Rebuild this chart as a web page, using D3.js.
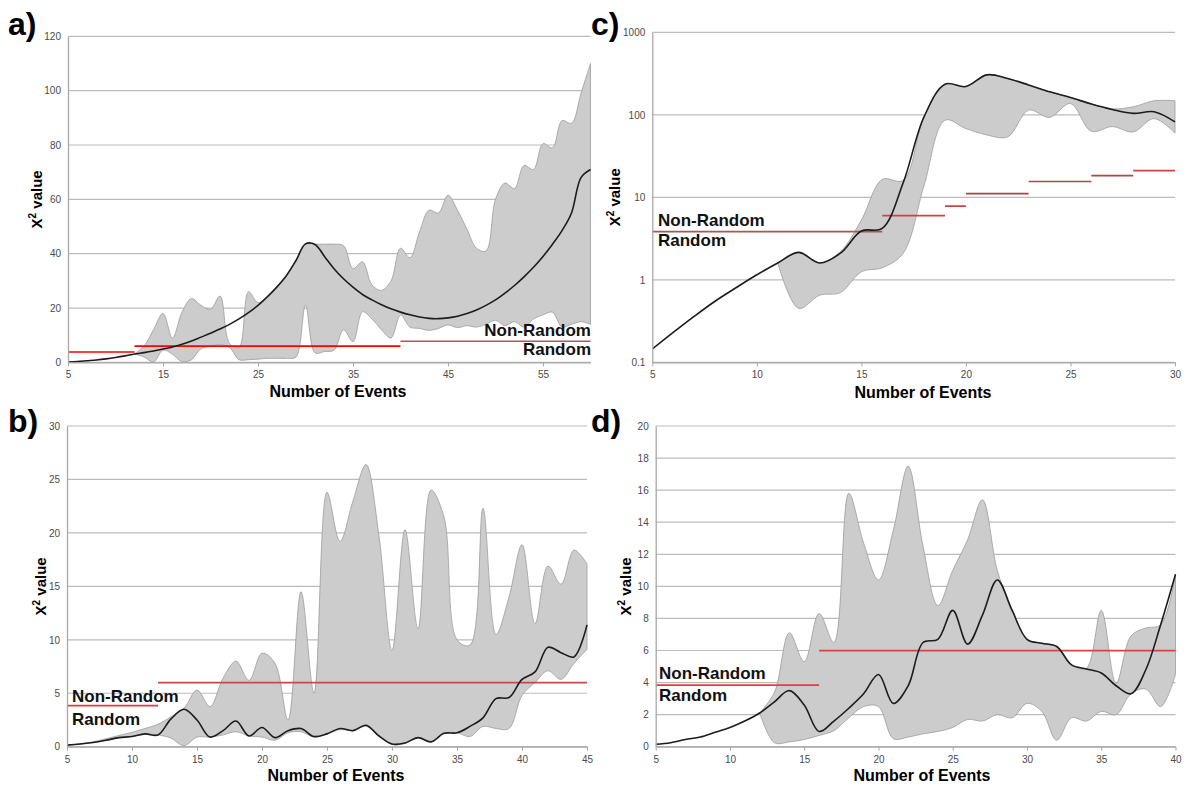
<!DOCTYPE html>
<html>
<head>
<meta charset="utf-8">
<script src="https://cdn.jsdelivr.net/npm/d3@7"></script>
<style>
  body { margin: 0; background: #fff; }
  text { font-family: "Liberation Sans", Arial, sans-serif; }
</style>
</head>
<body>
<svg id="chart" width="1192" height="787"></svg>
<script>
// ---- panel a : events 5..60 ----
let aEvents = d3.range(5, 61)
let aMean = [0.1, 0.3, 0.6, 0.9, 1.3, 1.8, 2.4, 3.1, 3.6, 4.2, 4.9, 5.7, 6.7, 7.9, 9.3, 10.7, 12.3, 14.0, 16.0, 18.3,
  21.0, 24.2, 27.8, 32.0, 37.5, 43.6, 43.4, 39.0, 34.5, 30.8, 27.7, 25.0, 23.0, 21.2, 19.7, 18.5, 17.5, 16.7, 16.2, 16.1,
  16.4, 17.0, 18.0, 19.3, 21.0, 23.0, 25.5, 28.3, 31.5, 35.0, 39.0, 43.5, 48.5, 55.0, 68.0, 71.0]
let aUpper = [null, null, null, null, null, null, null, 3.1, 6.0, 12.0, 18.0, 9.0, 18.5, 23.5, 21.0, 19.5, 24.4, 7.0, 5.5, 26.0,
  22.0, 24.2, 27.8, 32.0, 37.5, 43.6, 43.5, 43.5, 43.5, 43.0, 34.5, 37.0, 28.5, 26.5, 30.0, 42.0, 38.5, 48.0, 56.0, 55.0,
  61.5, 56.0, 49.0, 42.0, 41.0, 60.0, 66.0, 64.0, 72.5, 71.0, 80.5, 79.0, 89.0, 88.0, 99.0, 110.0]
let aLower = [null, null, null, null, null, null, null, 3.1, 2.0, 0.2, 4.5, 3.0, 0.3, 1.0, 5.0, 6.0, 6.5, 5.5, 1.0, 1.0,
  1.2, 1.5, 1.5, 1.5, 2.0, 21.0, 3.5, 4.0, 4.5, 12.0, 7.6, 18.6, 16.0, 12.0, 9.0, 17.4, 13.0, 12.5, 11.8, 12.5,
  13.8, 12.8, 13.5, 13.0, 14.0, 15.5, 13.5, 15.0, 13.0, 16.0, 17.5, 18.5, 13.0, 14.0, 15.0, 14.0]
let aCritX = [5, 12, 40, 60]
let aCritV = [3.84, 5.99, 7.81]
let aYTicks = [0, 20, 40, 60, 80, 100, 120]
let aXTicks = [5, 15, 25, 35, 45, 55]

// ---- panel b : events 5..45 ----
let bEvents = d3.range(5, 46)
let bMean = [0.15, 0.25, 0.4, 0.6, 0.85, 0.95, 1.2, 1.1, 2.6, 3.5, 2.5, 0.9, 1.5, 2.4, 1.0, 1.8, 0.85, 1.5, 1.7, 0.95,
  1.2, 1.7, 1.5, 2.0, 1.0, 0.25, 0.35, 0.85, 0.45, 1.25, 1.3, 1.9, 2.7, 4.5, 4.6, 6.3, 7.0, 9.3, 8.8, 8.4, 11.4]
let bUpper = [0.15, 0.25, 0.45, 0.75, 1.05, 1.35, 1.7, 2.1, 2.8, 3.6, 5.3, 3.75, 6.4, 8.0, 6.2, 8.75, 7.8, 2.5, 14.5, 5.0,
  23.8, 19.2, 23.0, 26.4, 19.7, 9.0, 20.3, 11.0, 24.0, 21.5, 10.0, 9.5, 22.3, 10.5, 14.0, 18.9, 11.5, 16.9, 15.2, 18.4, 17.1]
let bLower = [0.15, 0.25, 0.4, 0.6, 0.85, 0.95, 1.2, 1.1, 0.8, 0.1, 0.9, 0.9, 1.1, 1.4, 1.0, 0.9, 0.6, 1.3, 1.4, 0.9,
  1.2, 1.6, 1.5, 1.9, 1.0, 0.2, 0.3, 0.85, 0.45, 1.25, 1.3, 0.95, 1.9, 1.7, 1.7, 4.8, 6.0, 7.1, 6.3, 7.8, 9.1]
let bCritX = [5, 12, 45]
let bCritV = [3.84, 5.99]
let bYTicks = [0, 5, 10, 15, 20, 25, 30]
let bXTicks = [5, 10, 15, 20, 25, 30, 35, 40, 45]

// ---- panel c : events 5..30, log axis ----
let cEvents = d3.range(5, 31)
let cMean = [0.145, 0.23, 0.36, 0.55, 0.8, 1.15, 1.6, 2.15, 1.6, 2.1, 3.9, 4.2, 15, 95, 235, 220, 305, 275, 230, 190,
  162, 135, 116, 104, 109, 82]
let cUpper = [null, null, null, null, null, null, 1.6, 2.15, 1.6, 2.2, 5.3, 16.5, 16, 95, 235, 220, 305, 275, 230, 190,
  162, 135, 118, 125, 148, 148]
let cLower = [null, null, null, null, null, null, 1.6, 0.45, 0.65, 0.7, 1.25, 1.4, 2.1, 14, 86, 68, 57, 54, 114, 93,
  137, 63, 72, 62, 90, 60]
let cCritX = [5, 16, 19, 20, 23, 26, 28, 30]
let cCritV = [3.84, 5.99, 7.81, 11.07, 15.51, 18.31, 21.03]
let cYTicks = [0.1, 1, 10, 100, 1000]
let cXTicks = [5, 10, 15, 20, 25, 30]

// ---- panel d : events 5..40 ----
let dEvents = d3.range(5, 41)
let dMean = [0.15, 0.25, 0.45, 0.6, 0.9, 1.2, 1.6, 2.1, 2.8, 3.5, 2.6, 0.95, 1.6, 2.4, 3.3, 4.5, 2.7, 3.8, 6.5, 6.7,
  8.5, 6.4, 8.2, 10.4, 8.5, 6.7, 6.45, 6.25, 5.1, 4.85, 4.6, 3.8, 3.3, 4.8, 7.6, 10.75]
let dUpper = [null, null, null, null, null, null, null, 2.1, 3.4, 7.1, 5.3, 8.3, 6.5, 15.8, 12.7, 10.4, 13.5, 17.5, 12.5, 8.8,
  11.0, 12.9, 15.4, 11.0, 8.5, 6.7, 6.45, 6.25, 5.1, 4.9, 8.5, 3.95, 6.9, 7.4, 7.6, 10.75]
let dLower = [null, null, null, null, null, null, null, 2.1, 0.25, 0.3, 0.45, 0.7, 1.0, 1.8, 2.5, 2.5, 0.5, 0.6, 0.8, 0.95,
  1.2, 1.7, 1.6, 2.0, 1.8, 2.7, 2.2, 0.4, 1.8, 1.6, 2.2, 2.0, 3.3, 3.6, 2.5, 4.5]
let dCritX = [5, 16, 40]
let dCritV = [3.84, 5.99]
let dYTicks = [0, 2, 4, 6, 8, 10, 12, 14, 16, 18, 20]
let dXTicks = [5, 10, 15, 20, 25, 30, 35, 40]

let svg = d3.select("#chart")

let panels = [
  { name: "a)", xs: aEvents, mean: aMean, upper: aUpper, lower: aLower, critX: aCritX, critV: aCritV,
    yTicks: aYTicks, xTicks: aXTicks, yDomain: [0, 120], log: false,
    left: 68, right: 590.5, top: 36.3, bottom: 362.4,
    critColors: ["#ff0000", "#ff0000", "#a65a5a"],
    labelX: 8, labelY: 35, yTitleX: 42, xTitleX: 338, xTitleY: 397,
    nrX: 591, nrAnchor: "end", nrY: 336, rY: 355 },
  { name: "b)", xs: bEvents, mean: bMean, upper: bUpper, lower: bLower, critX: bCritX, critV: bCritV,
    yTicks: bYTicks, xTicks: bXTicks, yDomain: [0, 30], log: false,
    left: 67, right: 587, top: 426, bottom: 746.7,
    critColors: ["#e23a3a", "#c94848"],
    labelX: 8, labelY: 432, yTitleX: 46, xTitleX: 336, xTitleY: 781,
    nrX: 72, nrAnchor: "start", nrY: 702, rY: 725 },
  { name: "c)", xs: cEvents, mean: cMean, upper: cUpper, lower: cLower, critX: cCritX, critV: cCritV,
    yTicks: cYTicks, xTicks: cXTicks, yDomain: [0.1, 1000], log: true,
    left: 652.3, right: 1175, top: 32.3, bottom: 362.3,
    critColors: ["#a85656", "#d04040", "#cc4444", "#a04848", "#a84a4a", "#b04646", "#d04040"],
    labelX: 591, labelY: 35, yTitleX: 620, xTitleX: 923, xTitleY: 398,
    nrX: 658, nrAnchor: "start", nrY: 226, rY: 246 },
  { name: "d)", xs: dEvents, mean: dMean, upper: dUpper, lower: dLower, critX: dCritX, critV: dCritV,
    yTicks: dYTicks, xTicks: dXTicks, yDomain: [0, 20], log: false,
    left: 655.7, right: 1175.5, top: 426, bottom: 746.7,
    critColors: ["#e04040", "#e04040"],
    labelX: 591, labelY: 432, yTitleX: 631, xTitleX: 922, xTitleY: 781,
    nrX: 659, nrAnchor: "start", nrY: 679, rY: 701 }
]

let drawPanel = (p, idx) => {
  let x = d3.scaleLinear()
    .domain([p.xs[0], p.xs[p.xs.length - 1]])
    .range([p.left, p.right])
  let y = (p.log ? d3.scaleLog() : d3.scaleLinear())
    .domain(p.yDomain)
    .range([p.bottom, p.top])

  let g = svg.append("g")

  svg.append("clipPath").attr("id", "clip" + idx)
    .append("rect")
    .attr("x", p.left).attr("y", p.top - 2)
    .attr("width", p.right - p.left + 2).attr("height", p.bottom - p.top + 2)

  // horizontal grid
  g.selectAll("line.grid")
    .data(p.yTicks)
    .enter()
    .append("line")
    .attr("x1", p.left).attr("x2", p.right)
    .attr("y1", d => y(d)).attr("y2", d => y(d))
    .attr("stroke", "#bcbcbc")
    .attr("stroke-width", 1.2)

  let rows = p.xs.map((v, i) => ({ x: v, m: p.mean[i], hi: p.upper[i], lo: p.lower[i] }))
  let plot = g.append("g").attr("clip-path", `url(#clip${idx})`)

  // range band
  let band = d3.area()
    .defined(d => d.hi != null && d.lo != null)
    .x(d => x(d.x))
    .y0(d => y(d.lo))
    .y1(d => y(d.hi))
    .curve(d3.curveCatmullRom)
  plot.append("path")
    .datum(rows)
    .attr("d", band)
    .attr("fill", "#cccccc")
    .attr("stroke", "#9c9c9c")
    .attr("stroke-width", 0.8)

  // critical value steps
  p.critV.forEach((v, i) => {
    plot.append("line")
      .attr("x1", x(p.critX[i])).attr("x2", x(p.critX[i + 1]))
      .attr("y1", y(v)).attr("y2", y(v))
      .attr("stroke", p.critColors[i])
      .attr("stroke-width", 1.6)
  })

  // mean line
  let line = d3.line()
    .x(d => x(d.x))
    .y(d => y(d.m))
    .curve(d3.curveCatmullRom)
  plot.append("path")
    .datum(rows)
    .attr("d", line)
    .attr("fill", "none")
    .attr("stroke", "#1c1c1c")
    .attr("stroke-width", 1.6)

  // axes
  let xAxis = g.append("g")
    .attr("transform", `translate(0,${p.bottom})`)
    .call(d3.axisBottom(x).tickValues(p.xTicks).tickSize(4).tickSizeOuter(0).tickPadding(5).tickFormat(d => d))
  let yAxis = g.append("g")
    .attr("transform", `translate(${p.left},0)`)
    .call(d3.axisLeft(y).tickValues(p.yTicks).tickSize(0).tickPadding(7).tickFormat(d => d))
  ;[xAxis, yAxis].forEach(a => {
    a.attr("font-family", "Liberation Sans, Arial, sans-serif").attr("font-size", 10)
    a.selectAll("path").attr("stroke", "#a8a8a8").attr("stroke-width", 1.3)
    a.selectAll("line").attr("stroke", "#a8a8a8")
    a.selectAll("text").attr("fill", "#4a4a4a")
  })

  // titles
  g.append("text")
    .attr("x", p.labelX).attr("y", p.labelY)
    .attr("font-size", 32).attr("font-weight", "bold")
    .text(p.name)

  g.append("text")
    .attr("x", p.xTitleX).attr("y", p.xTitleY)
    .attr("text-anchor", "middle")
    .attr("font-size", 16).attr("font-weight", "bold")
    .text("Number of Events")

  let yt = g.append("text")
    .attr("transform", `translate(${p.yTitleX},${(p.top + p.bottom) / 2}) rotate(-90)`)
    .attr("text-anchor", "middle")
    .attr("font-size", 15).attr("font-weight", "bold")
  yt.append("tspan").text("X")
  yt.append("tspan").attr("font-size", 10).attr("dy", -6).text("2")
  yt.append("tspan").attr("dy", 6).text(" value")

  g.append("text")
    .attr("x", p.nrX).attr("y", p.nrY)
    .attr("text-anchor", p.nrAnchor)
    .attr("font-size", 17).attr("font-weight", "bold")
    .attr("fill", "#111")
    .text("Non-Random")
  g.append("text")
    .attr("x", p.nrX).attr("y", p.rY)
    .attr("text-anchor", p.nrAnchor)
    .attr("font-size", 17).attr("font-weight", "bold")
    .attr("fill", "#111")
    .text("Random")
}

panels.forEach(drawPanel)
</script>
</body>
</html>
